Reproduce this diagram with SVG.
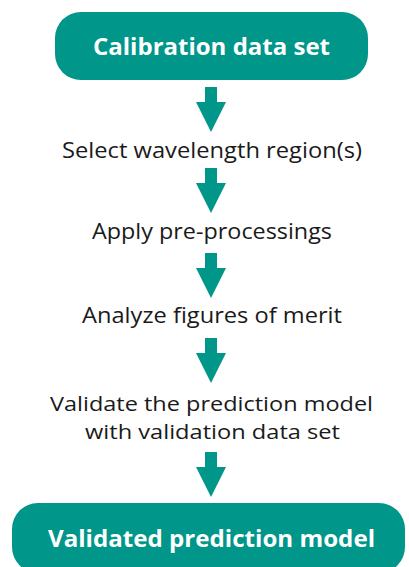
<svg xmlns="http://www.w3.org/2000/svg" width="409" height="567" viewBox="0 0 409 567">
<defs>
<style>
.box{fill:#00968A}
.bt{font-family:"Open Sans","Noto Sans",sans-serif;font-weight:bold;font-size:24px;fill:#fff;text-anchor:middle}
.st{font-family:"Open Sans","Noto Sans",sans-serif;font-size:22px;fill:#1a1a1a;text-anchor:middle}
.st2{font-size:20.5px}
.arr{fill:#00968A}
</style>
<path id="arrow" d="M-6,0 H6 V15 H15 L0,45 L-15,15 H-6 Z"/>
</defs>
<rect width="409" height="567" fill="#fff"/>
<g id="connectors" class="arr">
<use href="#arrow" x="211" y="87"/>
<use href="#arrow" x="211" y="168"/>
<use href="#arrow" x="211" y="253"/>
<use href="#arrow" x="211" y="338"/>
<use href="#arrow" x="211" y="452"/>
</g>
<g id="calibration">
<rect class="box" x="55" y="12" width="313" height="68" rx="26"/>
<text class="bt" x="211.5" y="55" textLength="237" lengthAdjust="spacingAndGlyphs">Calibration data set</text>
</g>
<g id="select"><text class="st" x="212" y="158" textLength="300" lengthAdjust="spacingAndGlyphs">Select wavelength region(s)</text></g>
<g id="apply"><text class="st" x="212" y="239" textLength="240" lengthAdjust="spacingAndGlyphs">Apply pre-processings</text></g>
<g id="analyze"><text class="st" x="212" y="323" textLength="260" lengthAdjust="spacingAndGlyphs">Analyze figures of merit</text></g>
<g id="validate"><text class="st st2" x="211.5" y="411" textLength="323" lengthAdjust="spacingAndGlyphs">Validate the prediction model</text><text class="st st2" x="212.5" y="439" textLength="255" lengthAdjust="spacingAndGlyphs">with validation data set</text></g>
<g id="validated">
<rect class="box" x="12" y="503" width="393" height="70" rx="26"/>
<text class="bt" x="211.5" y="547" textLength="327" lengthAdjust="spacingAndGlyphs">Validated prediction model</text>
</g>
</svg>
